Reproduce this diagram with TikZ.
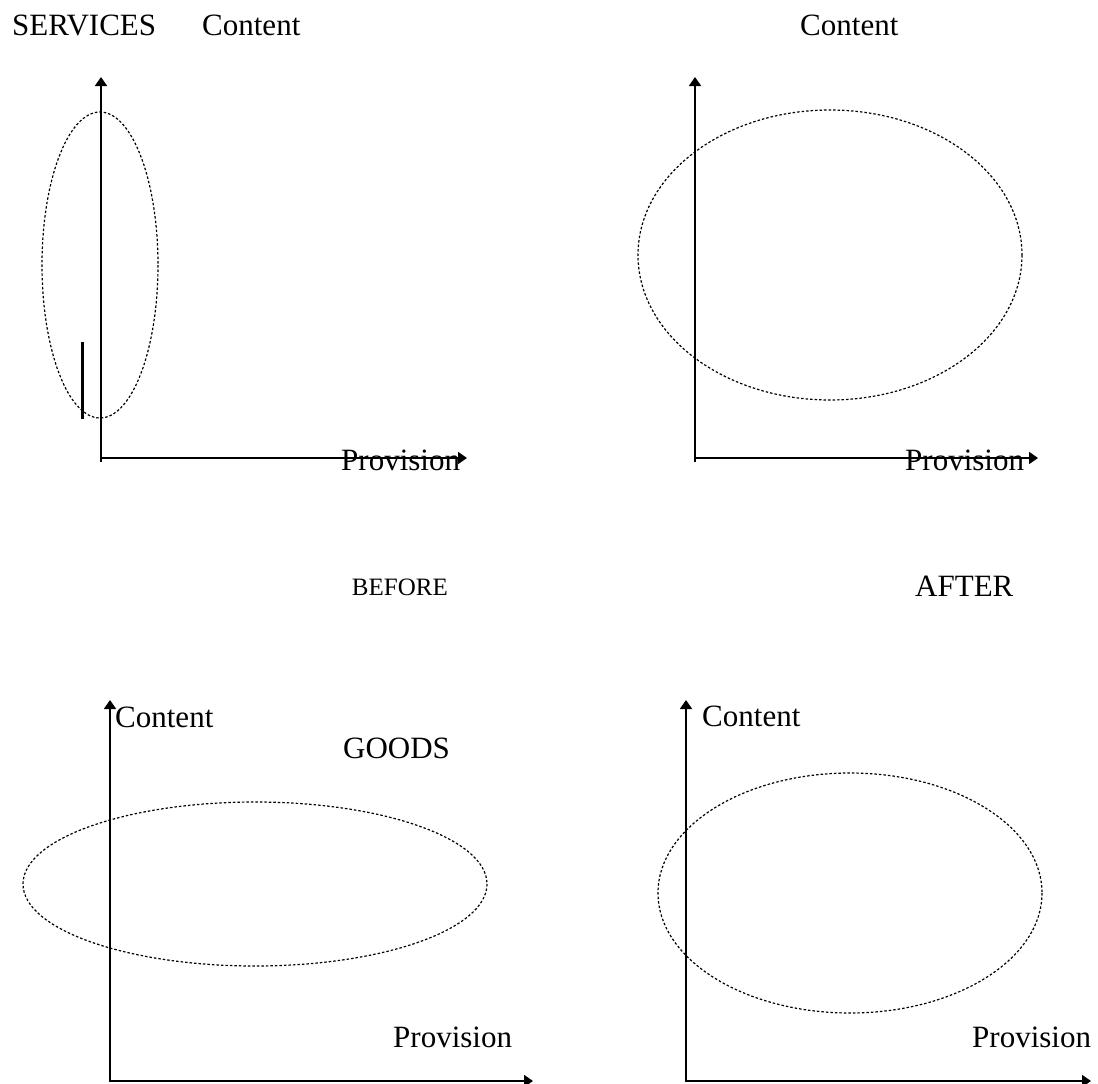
\documentclass[tikz,border=0pt]{standalone}
\usepackage{fontspec}
\setmainfont{Liberation Serif}
\usetikzlibrary{arrows.meta}
\begin{document}
\begin{tikzpicture}[x=1pt,y=-1pt,
  lbl/.style={inner sep=0pt,anchor=base west,font=\fontsize{31}{37}\selectfont},
  axis/.style={line width=1.8pt,-{Triangle[length=9pt,width=12pt]}},
  zone/.style={line width=1.2pt,dash pattern=on 2.5pt off 2pt}]
\useasboundingbox (0,0) rectangle (1098,1084);
% top-left panel
\coordinate (y1) at (101,77);
\coordinate (x1) at (467,458);
\draw[axis] (101,462) -- (y1);
\draw[axis] (101,458) -- (x1);
\draw[zone] (100,265) ellipse [x radius=58, y radius=153];
\coordinate (s1) at (82,342);
\coordinate (s2) at (82,419);
\draw[line width=3pt] (s1) -- (s2);
\node[lbl] (services) at (12,35) {SERVICES};
\node[lbl] (c1) at (202,35) {Content};
\node[lbl] (p1) at (341,470) {Provision};
% top-right panel
\coordinate (y2) at (695,77);
\coordinate (x2) at (1038,458);
\draw[axis] (695,462) -- (y2);
\draw[axis] (695,458) -- (x2);
\draw[zone] (830,255) ellipse [x radius=192, y radius=145];
\node[lbl] (c2) at (800,35) {Content};
\node[lbl] (p2) at (905,470) {Provision};
% middle labels
\node[inner sep=0pt,anchor=base east,font=\fontsize{25}{30}\selectfont] (before) at (448,595) {BEFORE};
\node[lbl] (after) at (915,596) {AFTER};
% bottom-left panel
\coordinate (y3) at (110,700);
\coordinate (x3) at (533,1081);
\draw[axis] (110,1082) -- (y3);
\draw[axis] (110,1081) -- (x3);
\draw[zone] (255,884) ellipse [x radius=232, y radius=82];
\node[lbl] (c3) at (115,727) {Content};
\node[lbl] (goods) at (343,758) {GOODS};
\node[lbl] (p3) at (393,1047) {Provision};
% bottom-right panel
\coordinate (y4) at (686,700);
\coordinate (x4) at (1091,1081);
\draw[axis] (686,1082) -- (y4);
\draw[axis] (686,1081) -- (x4);
\draw[zone] (850,893) ellipse [x radius=192, y radius=120];
\node[lbl] (c4) at (702,726) {Content};
\node[lbl] (p4) at (972,1047) {Provision};
\end{tikzpicture}
\end{document}
